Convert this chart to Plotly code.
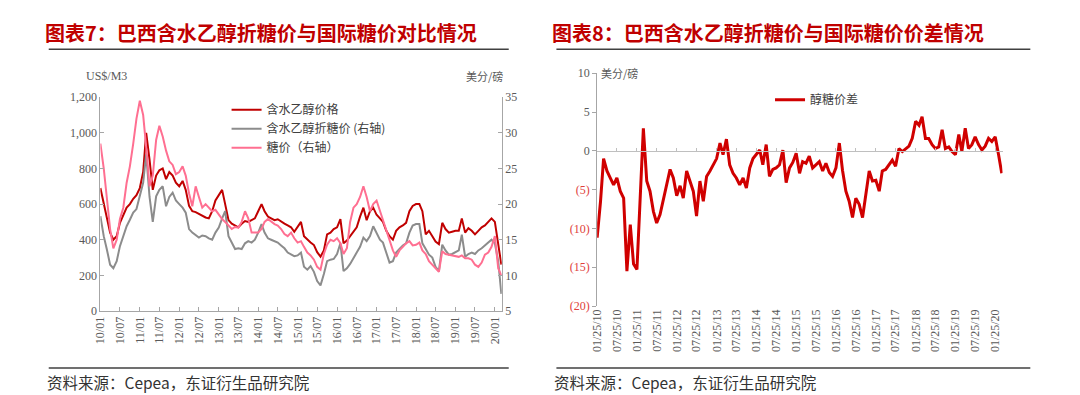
import pandas as pd
import plotly.graph_objects as go

# ---------------- data (monthly, Jan 2010 - Mar 2020) ----------------
months_left = pd.date_range("2010-01-01", "2020-03-01", freq="MS")
months_right = months_left + pd.Timedelta(days=24)  # 25th of each month

ethanol_usd_m3 = [
    690, 600, 530, 440, 400, 420, 495, 540, 580, 600, 630, 650,
    690, 780, 1000, 850, 680, 760, 790, 800, 740, 780, 760, 720,
    700, 730, 680, 590, 560, 555, 545, 535, 525, 520, 560, 620,
    650, 680, 600, 510, 490, 480, 470, 490, 505, 500, 510, 520,
    560, 600, 560, 530, 520, 510, 515, 500, 490, 480, 470, 445,
    470, 500, 420, 400, 385, 370, 330, 305, 340, 430, 440, 460,
    470, 515, 380, 395, 420, 450, 470, 530, 580, 510, 560, 580,
    540, 520, 500, 450, 420, 400, 450, 470, 480, 495, 560, 590,
    600, 600, 560, 430, 450, 420, 390, 375, 495, 460, 440, 445,
    450, 450, 520, 440, 465, 450, 430, 450, 470, 480, 500, 520,
    500, 360, 260,
]
ethanol_sugar_equiv = [
    18.3, 15.5, 13.7, 11.5, 11.0, 12.0, 14.1, 15.5, 16.9, 17.8, 18.8, 19.3,
    21.0, 23.0, 27.0, 21.0, 17.5, 21.1, 22.0, 22.5, 19.7, 21.0, 21.6, 20.5,
    20.0, 19.5, 18.8, 16.5, 16.0, 15.6, 15.3, 15.6, 15.5, 15.2, 15.0, 16.0,
    16.7, 18.0, 19.0, 15.5, 14.5, 13.7, 13.8, 13.7, 14.5, 14.8, 14.6, 15.0,
    16.0, 17.2, 16.0, 15.2, 15.0, 14.8, 14.6, 14.2, 13.8, 13.2, 12.9, 12.7,
    12.8, 13.2, 11.2, 10.8, 11.3, 10.5, 9.2, 8.6, 10.2, 12.0, 12.2, 12.3,
    13.0, 14.5, 10.6, 11.0, 11.6, 12.5, 13.2, 14.0, 15.3, 14.8, 15.5, 16.9,
    16.0, 15.0, 14.6, 13.0, 11.8, 12.0, 13.2, 13.7, 14.2, 14.5, 16.0, 17.0,
    17.2, 17.2, 14.5, 13.7, 12.9, 12.5, 11.2, 10.6, 14.3, 13.5, 12.9, 13.0,
    13.2, 13.5, 15.7, 12.6, 13.0, 13.2, 13.0, 13.5, 13.8, 14.2, 14.6, 15.0,
    14.5, 12.0, 7.4,
]
sugar_cents_lb = [
    28.5, 25.0, 21.0, 16.5, 13.8, 15.0, 17.9, 19.5, 23.0, 25.3, 28.5, 32.0,
    34.5, 32.5, 28.0, 22.5, 24.0, 29.0, 31.0, 29.5, 27.5, 26.0, 25.5, 24.2,
    24.5, 25.3, 24.0, 21.5, 19.7, 22.5, 21.0, 19.5, 20.0, 19.5, 19.0, 19.2,
    18.5, 17.9, 17.5, 17.0, 16.5, 16.8, 16.7, 17.5, 19.0, 18.0, 16.0, 16.0,
    16.0, 16.5, 17.5, 17.9, 17.5, 17.2, 17.0, 16.5, 15.8, 15.5, 16.0, 15.2,
    14.6, 14.8, 14.0, 13.2, 12.8, 12.2, 11.2, 10.8, 13.0, 14.3, 15.0, 14.8,
    15.2, 14.5, 13.0, 13.8, 17.5, 19.5, 20.0, 21.0, 22.5, 21.0, 19.0, 20.0,
    20.5, 19.0, 17.7, 16.5, 15.0, 13.5, 12.6, 13.5, 14.0, 14.5, 14.8, 14.2,
    14.3, 14.6, 13.5, 13.0, 12.0, 11.5, 11.0, 10.5, 13.4, 13.0, 12.9, 12.8,
    12.7, 12.6, 12.8, 12.4, 12.4, 12.2, 11.5, 11.2, 11.8, 12.9, 13.2, 14.0,
    15.5, 11.0, 10.0,
]
spread_cents_lb = [
    -11.2, -6.5, -1.0, -2.6, -3.5, -4.4, -3.5, -5.2, -6.1, -15.5, -9.5, -14.6,
    -15.3, -5.6, 2.9, -3.9, -5.2, -7.8, -9.3, -8.2, -6.1, -4.4, -2.4, -3.5,
    -5.8, -4.5, -6.1, -2.6, -3.9, -5.2, -8.4, -3.9, -6.5, -3.3, -2.6, -1.8,
    -1.0, 1.0, -0.5, 1.5, -1.8, -2.9, -3.5, -4.4, -3.5, -4.8, -2.2, -1.0,
    -0.5, 0.1, -1.8, 0.8, -3.3, -2.4, -2.2, -1.8, 0.1, -4.1, -2.2, -1.5,
    -0.3, -2.9, -1.4, -1.6, -0.7, -2.2, -1.8, -1.4, -2.6, -1.6, -2.8, -3.3,
    -2.2, 1.0, -2.5, -5.2, -6.5, -8.6, -6.1, -6.9, -8.6, -5.6, -2.6, -3.9,
    -3.8, -5.2, -2.6, -2.4, -1.8, -1.2, -2.0, 0.3, -0.1, 0.3, 0.6, 1.6,
    3.8, 3.3, 4.4, 1.6, 1.6, 0.8, 0.3, 0.5, 2.7, 0.3, 0.5, -0.1,
    -0.5, 2.1, -0.1, 2.9, 0.3, 0.8, 1.8, 0.8, 0.1, 0.6, 1.6, 1.2,
    1.8, -0.5, -2.9,
]

left_tick_dates = pd.date_range("2010-01-01", "2020-01-01", freq="6MS")
left_tick_text = [d.strftime("%y/%m") for d in left_tick_dates]
right_tick_dates = left_tick_dates + pd.Timedelta(days=24)
right_tick_text = [d.strftime("%m/%d/%y") for d in right_tick_dates]

left_y_ticks = [0, 200, 400, 600, 800, 1000, 1200]
left_y_text = ["0", "200", "400", "600", "800", "1,000", "1,200"]
right_y_ticks = [-20, -15, -10, -5, 0, 5, 10]

# ---------------- styling ----------------
W, H = 1080, 395
RED = "#C00000"
GRAY = "#8C8C8C"
PINK = "#FF6F91"
AX = "#A6A6A6"
TICKC = "#595959"
SERIF = "Liberation Serif, Times New Roman, serif"
CJK = "Noto Sans CJK SC, sans-serif"


def px(x):
    return x / W


def py(y):
    # small vertical calibration of the captured page
    y = (y - 5.7) / 0.9655
    return (H - y) / H


fig = go.Figure()
fig.add_trace(go.Scatter(x=months_left, y=ethanol_usd_m3, name="含水乙醇价格",
                         mode="lines", line=dict(color=RED, width=2),
                         xaxis="x", yaxis="y", legend="legend"))
fig.add_trace(go.Scatter(x=months_left, y=ethanol_sugar_equiv, name="含水乙醇折糖价 (右轴)",
                         mode="lines", line=dict(color=GRAY, width=2),
                         xaxis="x", yaxis="y2", legend="legend"))
fig.add_trace(go.Scatter(x=months_left, y=sugar_cents_lb, name="糖价（右轴）",
                         mode="lines", line=dict(color=PINK, width=2),
                         xaxis="x", yaxis="y2", legend="legend"))
fig.add_trace(go.Scatter(x=months_right, y=spread_cents_lb, name="醇糖价差",
                         mode="lines", line=dict(color="#D00000", width=3),
                         xaxis="x2", yaxis="y3", legend="legend2"))
# carrier trace for the zero-crossing axis line of the right chart
fig.add_trace(go.Scatter(x=months_right, y=spread_cents_lb, mode="lines",
                         line=dict(color="rgba(0,0,0,0)", width=0),
                         showlegend=False, hoverinfo="skip",
                         xaxis="x3", yaxis="y3"))

ydom_l = [py(310), py(96)]
ydom_r = [py(305), py(72)]
zero_pos = ydom_r[0] + (0 - (-20)) / 30 * (ydom_r[1] - ydom_r[0])

tickfont = dict(family=SERIF, size=12, color=TICKC)

fig.update_layout(
    width=W, height=H, margin=dict(l=0, r=0, t=0, b=0),
    paper_bgcolor="white", plot_bgcolor="white",
    xaxis=dict(domain=[px(94), px(498)], range=["2010-01-01", "2020-03-05"],
               type="date", tickmode="array", tickvals=list(left_tick_dates),
               ticktext=left_tick_text, tickangle=-90, ticks="inside", ticklen=4,
               tickcolor=AX, showline=True, linecolor=AX, showgrid=False,
               zeroline=False, tickfont=tickfont, anchor="y"),
    yaxis=dict(domain=ydom_l, range=[0, 1200], tickmode="array",
               tickvals=left_y_ticks, ticktext=left_y_text, ticks="inside",
               ticklen=4, tickcolor=AX, showline=True, linecolor=AX,
               showgrid=False, zeroline=False, tickfont=tickfont, anchor="x"),
    yaxis2=dict(overlaying="y", side="right", range=[5, 35], dtick=5,
                ticks="inside", ticklen=4, tickcolor=AX, showline=True,
                linecolor=AX, showgrid=False, zeroline=False,
                tickfont=tickfont, anchor="x"),
    xaxis2=dict(domain=[px(594), px(1002)], range=["2010-01-25", "2020-04-01"],
                type="date", tickmode="array", tickvals=list(right_tick_dates),
                ticktext=right_tick_text, tickangle=-90, ticks="", showline=False,
                showgrid=False, zeroline=False, tickfont=tickfont, anchor="y3"),
    xaxis3=dict(overlaying="x2", anchor="free", position=zero_pos,
                range=["2010-01-25", "2020-04-01"], type="date",
                tickmode="array", tickvals=list(right_tick_dates),
                showticklabels=False, ticks="inside", ticklen=3, tickcolor="#BFBFBF",
                showline=True, linecolor="#BFBFBF", linewidth=1,
                showgrid=False, zeroline=False),
    yaxis3=dict(domain=ydom_r, range=[-20, 10], tickmode="array",
                tickvals=right_y_ticks,
                ticktext=[f'<span style="color:#E0403A">({abs(v)})</span>' if v < 0 else str(v)
                          for v in right_y_ticks],
                ticks="outside", ticklen=4, tickcolor=AX, showline=True,
                linecolor=AX, showgrid=False, zeroline=False,
                tickfont=tickfont, anchor="x2"),
    legend=dict(x=px(221), y=py(94), xanchor="left", yanchor="top",
                bgcolor="rgba(0,0,0,0)", font=dict(family=CJK, size=12, color="#404040"),
                tracegroupgap=0, itemwidth=30),
    legend2=dict(x=px(768), y=py(84), xanchor="left", yanchor="top",
                 bgcolor="rgba(0,0,0,0)", font=dict(family=CJK, size=12, color="#404040"),
                 itemwidth=30),
    showlegend=True,
)

titles = [
    (36, "图表7：巴西含水乙醇折糖价与国际糖价对比情况"),
    (547, "图表8：巴西含水乙醇折糖价与国际糖价价差情况"),
]
for x0, t in titles:
    fig.add_annotation(text=f"<b>{t}</b>", xref="paper", yref="paper",
                       x=px(x0), y=py(31), xanchor="left", yanchor="middle",
                       showarrow=False, font=dict(family=CJK, size=20, color=RED))

for x0, x1 in [(42, 505), (553, 1030)]:
    fig.add_shape(type="line", xref="paper", yref="paper", x0=px(x0), x1=px(x1),
                  y0=py(48), y1=py(48), line=dict(color="#404040", width=1.5))
    fig.add_shape(type="line", xref="paper", yref="paper", x0=px(x0), x1=px(x1),
                  y0=py(367), y1=py(367), line=dict(color="#404040", width=1.5))
    fig.add_annotation(text="资料来源：Cepea，东证衍生品研究院", xref="paper", yref="paper",
                       x=px(x0 - 4), y=py(381), xanchor="left", yanchor="middle",
                       showarrow=False, font=dict(family=CJK, size=15.5, color="#333333"))

fig.add_annotation(text="US$/M3", xref="paper", yref="paper", x=px(100), y=py(75),
                   xanchor="center", yanchor="middle", showarrow=False,
                   font=dict(family=SERIF, size=12, color=TICKC))
fig.add_annotation(text="美分/磅", xref="paper", yref="paper", x=px(481), y=py(75),
                   xanchor="center", yanchor="middle", showarrow=False,
                   font=dict(family=CJK, size=11, color=TICKC))
fig.add_annotation(text="美分/磅", xref="paper", yref="paper", x=px(596), y=py(72),
                   xanchor="left", yanchor="middle", showarrow=False,
                   font=dict(family=CJK, size=11, color=TICKC))

# remove the default page margin so the 1080x395 figure fills the window exactly
fig.write_html("out.html", config={"displayModeBar": False},
               post_script="document.body.style.margin='0';document.body.style.overflow='hidden';")
